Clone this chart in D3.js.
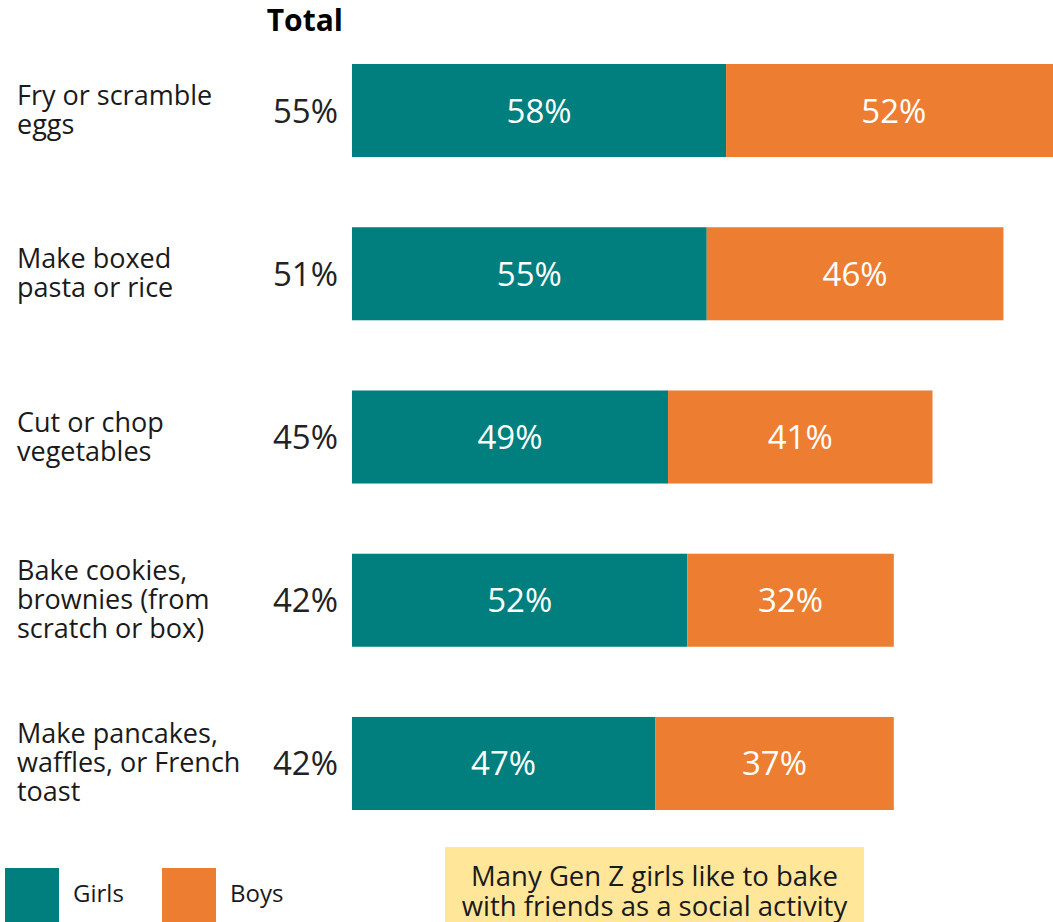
<!DOCTYPE html>
<html><head><meta charset="utf-8">
<script src="https://cdn.jsdelivr.net/npm/d3@7"></script>
<style>
html,body{margin:0;padding:0;background:#fff;overflow:hidden;}
svg{display:block;font-family:"Open Sans",sans-serif;}
</style></head>
<body>
<svg id="chart" width="1053" height="922"></svg>
<script>
const categories = [
  ["Fry or scramble","eggs"],
  ["Make boxed","pasta or rice"],
  ["Cut or chop","vegetables"],
  ["Bake cookies,","brownies (from","scratch or box)"],
  ["Make pancakes,","waffles, or French","toast"]
];
const totalValues = [55, 51, 45, 42, 42];
const girlsValues = [58, 55, 49, 52, 47];
const boysValues  = [52, 46, 41, 32, 37];
const seriesNames = ["Girls", "Boys"];
const annotationLines = ["Many Gen Z girls like to bake", "with friends as a social activity"];

const colors = {Girls: "#007f7e", Boys: "#ed7d31"};
const svg = d3.select("#chart");

const keys = categories.map((c,i)=>i);
const x = d3.scaleLinear().domain([0, 100]).range([352, 997]);
const y = d3.scaleBand().domain(keys).range([64, 810]).paddingInner(0.43).paddingOuter(0);

// header
svg.append("text").attr("x", 343).attr("y", 31).attr("text-anchor","end")
  .attr("font-size", 30).attr("font-weight", 700).attr("fill","#000").text("Total");

const rows = svg.selectAll("g.row").data(keys).join("g").attr("class","row");

rows.each(function(i){
  const g = d3.select(this);
  const lines = categories[i];
  const lh = 29;
  const cy = y(i) + y.bandwidth()/2;
  const t = g.append("text").attr("x", 17).attr("font-size", 27).attr("fill","#1a1a1a");
  lines.forEach((ln, k) => {
    t.append("tspan").attr("x", 17)
      .attr("y", cy + (k - (lines.length-1)/2) * lh + 9)
      .text(ln);
  });
  g.append("text").attr("x", 338).attr("y", cy + 12).attr("text-anchor","end")
    .attr("font-size", 33).attr("fill","#222").text(totalValues[i] + "%");

  const segs = [
    {name:"Girls", x0:0, x1:girlsValues[i], v:girlsValues[i]},
    {name:"Boys", x0:girlsValues[i], x1:girlsValues[i]+boysValues[i], v:boysValues[i]}
  ];
  segs.forEach(s => {
    g.append("rect").attr("x", x(s.x0)).attr("y", y(i))
      .attr("width", x(s.x1) - x(s.x0)).attr("height", y.bandwidth())
      .attr("fill", colors[s.name]);
    g.append("text").attr("x", (x(s.x0)+x(s.x1))/2).attr("y", cy + 12)
      .attr("text-anchor","middle").attr("font-size", 33).attr("fill","#fff")
      .text(s.v + "%");
  });
});

// legend
const legendX = [5, 162];
seriesNames.forEach((n, k) => {
  svg.append("rect").attr("x", legendX[k]).attr("y", 868).attr("width", 54).attr("height", 60)
    .attr("fill", colors[n]);
  svg.append("text").attr("x", legendX[k] + 68).attr("y", 902).attr("font-size", 24)
    .attr("fill","#1a1a1a").text(n);
});

// annotation
svg.append("rect").attr("x", 445).attr("y", 847).attr("width", 419).attr("height", 80).attr("fill","#ffe699");
annotationLines.forEach((ln, k) => {
  svg.append("text").attr("x", 654.5).attr("y", 886 + k*30).attr("text-anchor","middle")
    .attr("font-size", 27.5).attr("fill","#1a1a1a").text(ln);
});
</script>
</body></html>
